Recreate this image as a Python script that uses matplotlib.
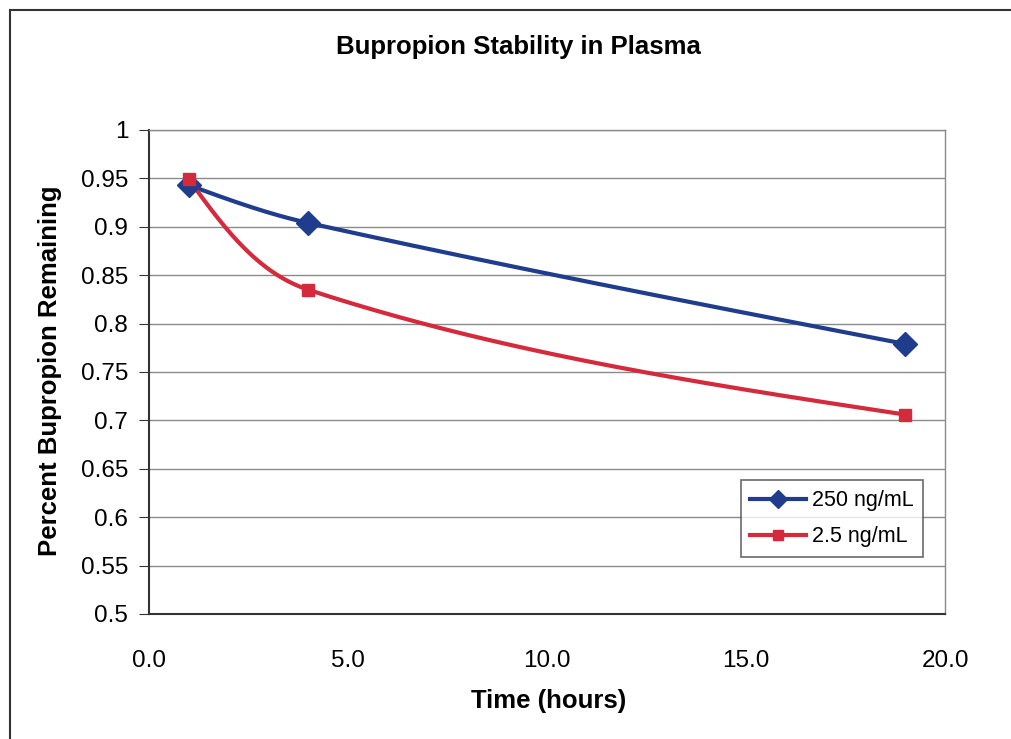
import matplotlib
matplotlib.use("Agg")
import matplotlib.pyplot as plt
from matplotlib.lines import Line2D
import numpy as np

plt.rcParams['font.family'] = ['Liberation Sans', 'DejaVu Sans']

hours = [1, 4, 19]
series_250 = [0.943, 0.904, 0.779]
series_2_5 = [0.949, 0.835, 0.706]
series_names = ['250 ng/mL', '2.5 ng/mL']
x_ticks = [0.0, 5.0, 10.0, 15.0, 20.0]
y_ticks = [0.5, 0.55, 0.6, 0.65, 0.7, 0.75, 0.8, 0.85, 0.9, 0.95, 1.0]

BLUE = '#1f3d8c'
RED = '#d42a3c'

W, H = 1012, 739
fig = plt.figure(figsize=(W/100, H/100), dpi=100)
ax = fig.add_axes([149/W, 1-614/H, (945-149)/W, (614-130)/H])
ax.set_xlim(0, 20)
ax.set_ylim(0.5, 1.0)

# outer chart border (left and top edges visible)
fig.lines.append(Line2D([10/W, 10/W], [0, 1-10/H], transform=fig.transFigure,
                        color='#333333', lw=1.5))
fig.lines.append(Line2D([10/W, 1], [1-10/H, 1-10/H], transform=fig.transFigure,
                        color='#333333', lw=1.5))


def excel_smooth(xs, ys, n=80):
    pts = ax.transData.transform(np.column_stack([xs, ys]))
    m = len(pts)
    tang = {}
    for i in range(1, m - 1):
        d = pts[i+1] - pts[i-1]
        tang[i] = d / np.linalg.norm(d)
    out = []
    for i in range(m - 1):
        p1, p2 = pts[i], pts[i+1]
        L = np.linalg.norm(p2 - p1)
        c1 = p1 + tang[i] * L / 3.0 if i in tang else None
        c2 = p2 - tang[i+1] * L / 3.0 if (i + 1) in tang else None
        if c1 is None and c2 is None:
            c1 = p1 + (p2 - p1) / 3.0
            c2 = p2 - (p2 - p1) / 3.0
        elif c1 is None:
            c1 = (p1 + c2) / 2.0
        elif c2 is None:
            c2 = (p2 + c1) / 2.0
        t = np.linspace(0, 1, n)[:, None]
        seg = ((1-t)**3)*p1 + 3*((1-t)**2)*t*c1 + 3*(1-t)*(t**2)*c2 + (t**3)*p2
        out.append(seg)
    curve = np.vstack(out)
    d = ax.transData.inverted().transform(curve)
    return d[:, 0], d[:, 1]


for ys, col, mk, ms, name in [(series_250, BLUE, 'D', 12, series_names[0]),
                              (series_2_5, RED, 's', 9, series_names[1])]:
    cx, cy = excel_smooth(hours, ys)
    ax.plot(cx, cy, color=col, lw=3, zorder=3, solid_capstyle='round')
    ax.plot(hours, ys, linestyle='none', marker=mk, markersize=ms, color=col,
            markeredgecolor=col, zorder=4)
    ax.plot([], [], color=col, lw=3, marker=mk, markersize=ms*0.75, label=name)

ax.set_yticks(y_ticks)
ax.set_yticklabels(['0.5', '0.55', '0.6', '0.65', '0.7', '0.75', '0.8',
                    '0.85', '0.9', '0.95', '1'])
ax.set_xticks(x_ticks)
ax.set_xticklabels([f'{v:.1f}' for v in x_ticks])
ax.tick_params(axis='y', labelsize=17.5, length=7, color='#333333',
               direction='out', pad=8)
ax.tick_params(axis='x', labelsize=17.5, length=0, pad=26)
ax.grid(axis='y', color='#8a8a8a', lw=1)
ax.set_axisbelow(True)
for side in ['left', 'bottom']:
    ax.spines[side].set_color('#333333')
    ax.spines[side].set_linewidth(1.5)
for side in ['top', 'right']:
    ax.spines[side].set_color('#8a8a8a')
    ax.spines[side].set_linewidth(1)

fig.text(518/W, 1-47/H, 'Bupropion Stability in Plasma', fontsize=18.5,
         fontweight='bold', ha='center', va='center')
fig.text(549/W, 1-701/H, 'Time (hours)', fontsize=18.5, fontweight='bold',
         ha='center', va='center')
fig.text(50/W, 1-371/H, 'Percent Bupropion Remaining', fontsize=18.5,
         fontweight='bold', ha='center', va='center', rotation=90)

leg = ax.legend(loc='lower right', bbox_to_anchor=(0.9725, 0.118), fontsize=15.5,
                frameon=True, fancybox=False, edgecolor='#444444',
                handlelength=2.6, handletextpad=0.25, borderpad=0.45,
                labelspacing=0.7, borderaxespad=0)
leg.get_frame().set_linewidth(1.2)

fig.savefig('out.png', dpi=100, facecolor='white')
